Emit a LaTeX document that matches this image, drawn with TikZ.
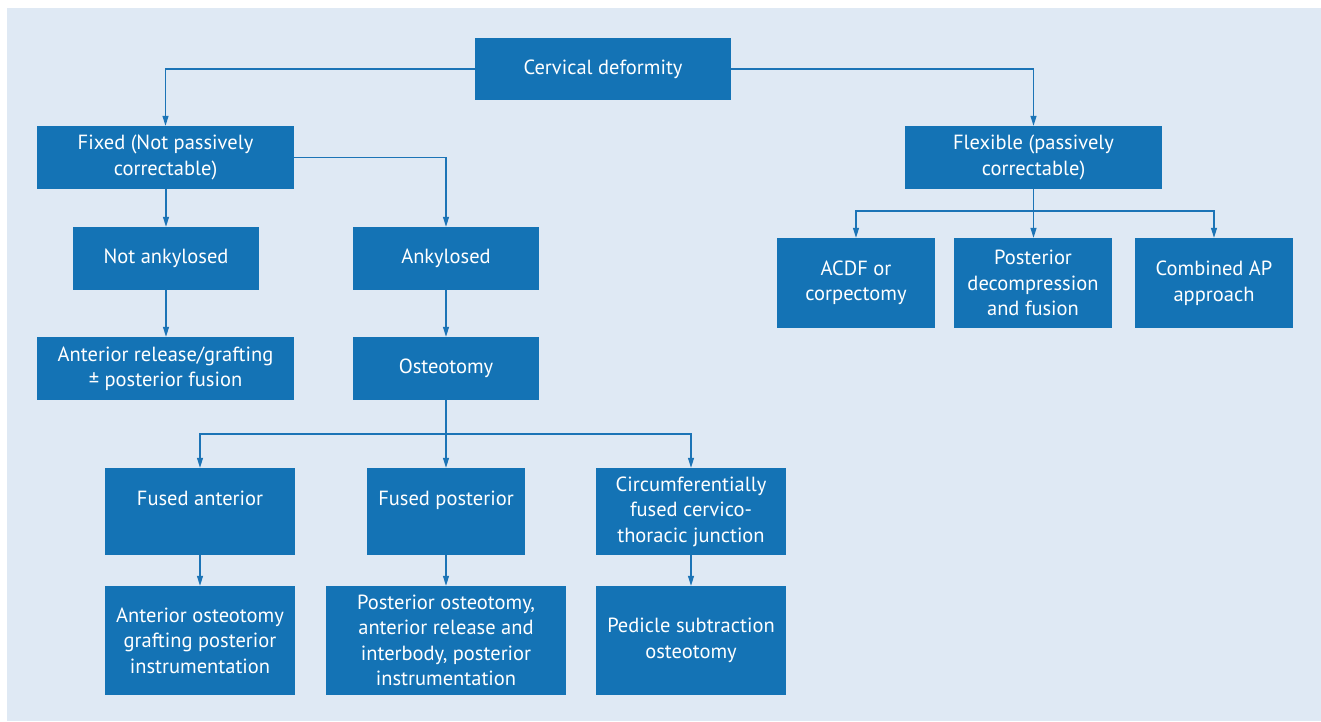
\documentclass[tikz,border=0pt]{standalone}
\usepackage{fontspec}
\setmainfont{PT Sans}
\usetikzlibrary{arrows.meta}
\definecolor{bg}{HTML}{DFE9F4}
\definecolor{boxblue}{HTML}{1473B5}
\definecolor{lineblue}{HTML}{1C74B6}
\tikzset{
  box/.style={draw=none, fill=boxblue, text=white, align=center, inner sep=0pt,
    font=\fontsize{20.5}{25.5}\selectfont},
  conn/.style={draw=lineblue, line width=1.2pt},
  arr/.style={conn, -{Triangle[length=10pt,width=6pt]}},
}
\begin{document}
\begin{tikzpicture}[x=1pt,y=-1pt]
\fill[white] (0,0) rectangle (1321,721);
\useasboundingbox (0,0) rectangle (1321,721);
\fill[bg] (7,8) rectangle (1321,721);

% boxes: center x, center y, width, height
\node[box, minimum width=256, minimum height=62] (cd) at (603,69) {Cervical deformity};
\node[box, minimum width=257, minimum height=63] (fixed) at (165.5,157.5) {Fixed (Not passively\\correctable)};
\node[box, minimum width=257, minimum height=63] (flex) at (1033.5,157.5) {Flexible (passively\\correctable)};
\node[box, minimum width=186, minimum height=63] (notank) at (166,258.5) {Not ankylosed};
\node[box, minimum width=186, minimum height=63] (ank) at (446,258.5) {Ankylosed};
\node[box, minimum width=257, minimum height=63] (antrel) at (165.5,368.5) {Anterior release/grafting\\± posterior fusion};
\node[box, minimum width=186, minimum height=63] (osteo) at (446,368.5) {Osteotomy};
\node[box, minimum width=158, minimum height=90] (acdf) at (856,283) {ACDF or\\corpectomy};
\node[box, minimum width=158, minimum height=90] (postdec) at (1033,283) {Posterior\\decompression\\and fusion};
\node[box, minimum width=158, minimum height=90] (comb) at (1214,283) {Combined AP\\approach};
\node[box, minimum width=190, minimum height=87] (fant) at (200,511.5) {};
\node[box, anchor=base] (fanttxt) at (200,505) {Fused anterior};
\node[box, minimum width=158, minimum height=87] (fpost) at (446,511.5) {};
\node[box, anchor=base] (fposttxt) at (446,505) {Fused posterior};
\node[box, minimum width=190, minimum height=87] (circ) at (691,511.5) {Circumferentially\\fused cervico-\\thoracic junction};
\node[box, minimum width=190, minimum height=109] (antost) at (200,640.5) {Anterior osteotomy\\grafting posterior\\instrumentation};
\node[box, minimum width=240, minimum height=109] (postost) at (446,640.5) {Posterior osteotomy,\\anterior release and\\interbody, posterior\\instrumentation};
\node[box, minimum width=190, minimum height=109] (pedicle) at (691,640.5) {Pedicle subtraction\\osteotomy};

% connector helper coordinates
\coordinate (osplit) at (446,434);
\coordinate (fsplit) at (1033.5,211);

% connectors
\draw[arr] (cd.west) -| (fixed.north);
\draw[arr] (cd.east) -| (flex.north);
\draw[arr] (fixed.south -| notank.north) -- (notank.north);
\draw[arr] (fixed.east |- 0,157.5) -| (ank.north);
\draw[arr] (notank.south) -- (notank.south |- antrel.north);
\draw[arr] (ank.south) -- (osteo.north);
\draw[conn] (osteo.south) -- (osplit);
\draw[arr] (osplit) -- (fpost.north);
\draw[arr] (osplit) -| (fant.north);
\draw[arr] (osplit) -| (circ.north);
\draw[conn] (flex.south) -- (fsplit);
\draw[arr] (fsplit) -- (fsplit |- postdec.north);
\draw[arr] (fsplit) -| (acdf.north);
\draw[arr] (fsplit) -| (comb.north);
\draw[arr] (fant.south) -- (antost.north);
\draw[arr] (fpost.south) -- (postost.north);
\draw[arr] (circ.south) -- (pedicle.north);
\end{tikzpicture}
\end{document}
